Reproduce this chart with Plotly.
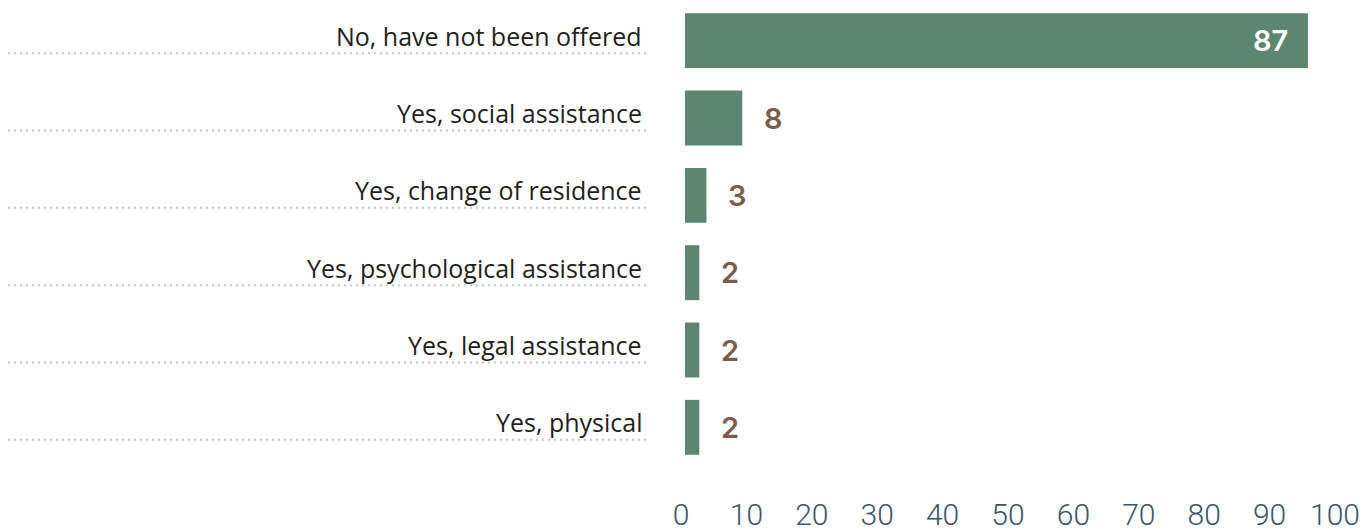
import plotly.graph_objects as go

# Survey answers (percent of respondents)
categories = [
    "No, have not been offered",
    "Yes, social assistance",
    "Yes, change of residence",
    "Yes, psychological assistance",
    "Yes, legal assistance",
    "Yes, physical",
]
values = [87, 8, 3, 2, 2, 2]
tick_values = [0, 10, 20, 30, 40, 50, 60, 70, 80, 90, 100]
tick_labels = ["0", "10", "20", "30", "40", "50", "60", "70", "80", "90", "100"]

BAR = "#5c8670"
VALUE = "#7a5d4c"
LABEL = "#231f20"
TICK = "#3c5568"
DOTS = "#b7cfc6"

W, H = 1364, 532
ML, MR, MT, MB = 670, 24, 2, 66
plot_w = W - ML - MR

fig = go.Figure()
fig.add_trace(go.Bar(
    y=categories, x=values, orientation="h",
    marker=dict(color=BAR, line=dict(width=0)),
    width=0.71, hoverinfo="skip", showlegend=False,
))
# invisible carrier for the percentage scale along the bottom
fig.add_trace(go.Scatter(x=[None], y=[None], xaxis="x2", mode="markers",
                         showlegend=False, hoverinfo="skip"))

annotations = []
shapes = []
for cat, v in zip(categories, values):
    # category label, right-aligned before the bars
    annotations.append(dict(
        x=(644 - ML) / plot_w, xref="paper", xanchor="right",
        y=cat, yref="y", yanchor="middle", yshift=5,
        text=cat, showarrow=False,
        font=dict(family="Open Sans", size=25, color=LABEL),
    ))
    # dotted leader under the label
    shapes.append(dict(
        type="line", xref="paper", x0=(8 - ML) / plot_w, x1=(646 - ML) / plot_w,
        yref="y", ysizemode="pixel", yanchor=cat, y0=-12.5, y1=-12.5,
        line=dict(color=DOTS, width=2, dash="2px,4px"),
    ))
    # value label
    if v >= 20:
        annotations.append(dict(
            x=v, xref="x", xanchor="right", xshift=-18,
            y=cat, yref="y", yanchor="middle", yshift=0,
            text=str(v), showarrow=False,
            font=dict(family="Inter", size=29, color="white", weight=600),
        ))
    else:
        annotations.append(dict(
            x=v, xref="x", xanchor="left", xshift=20,
            y=cat, yref="y", yanchor="middle", yshift=0,
            text=str(v), showarrow=False,
            font=dict(family="Inter", size=29, color=VALUE, weight=600),
        ))

bar_px = 7.16     # pixels per percent for the bars
tick_px = 6.54    # pixels per percent for the scale labels
zero_bar, zero_tick = 685, 681

fig.update_layout(
    width=W, height=H,
    margin=dict(l=ML, r=MR, t=MT, b=MB, pad=0, autoexpand=False),
    paper_bgcolor="white", plot_bgcolor="white",
    bargap=0.29,
    xaxis=dict(
        range=[(ML - zero_bar) / bar_px, (W - MR - zero_bar) / bar_px],
        showticklabels=False, showgrid=False, zeroline=False,
        showline=False, ticks="", fixedrange=True, automargin=False,
    ),
    xaxis2=dict(
        overlaying="x", anchor="y", side="bottom",
        range=[(ML - zero_tick) / tick_px, (W - MR - zero_tick) / tick_px],
        tickmode="array", tickvals=tick_values, ticktext=tick_labels,
        showgrid=False, zeroline=False, showline=False, ticks="",
        ticklabelstandoff=28, automargin=False,
        tickfont=dict(family="Roboto", size=30, color=TICK, weight=300),
        fixedrange=True,
    ),
    yaxis=dict(
        autorange="reversed", showticklabels=False, showgrid=False,
        zeroline=False, showline=False, ticks="", fixedrange=True,
        automargin=False,
    ),
    annotations=annotations,
    shapes=shapes,
)

fig.write_html("out.html")
